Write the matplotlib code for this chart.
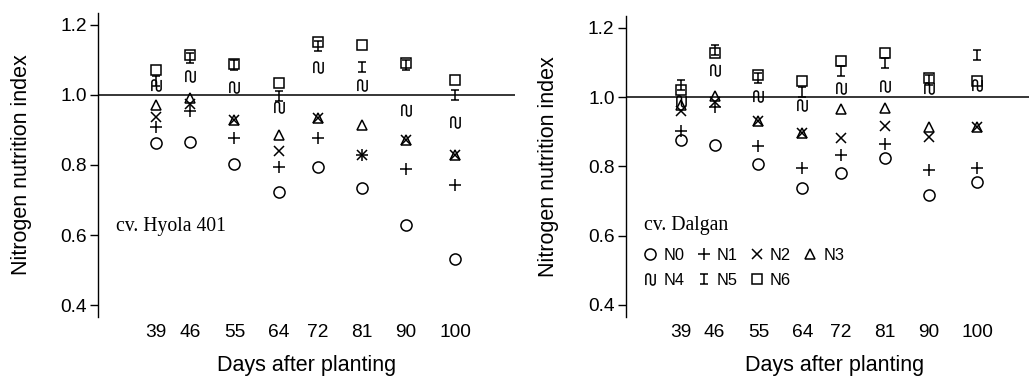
import numpy as np
import matplotlib
matplotlib.use("Agg")
import matplotlib.pyplot as plt
from matplotlib.path import Path
from matplotlib.lines import Line2D

days = [39, 46, 55, 64, 72, 81, 90, 100]
series_names = ["N0", "N1", "N2", "N3", "N4", "N5", "N6"]

hyola_N0 = [0.862, 0.866, 0.803, 0.724, 0.795, 0.733, 0.629, 0.533]
hyola_N1 = [0.908, 0.955, 0.876, 0.793, 0.876, 0.829, 0.790, 0.743]
hyola_N2 = [0.938, 0.975, 0.929, 0.840, 0.933, 0.829, 0.871, 0.829]
hyola_N3 = [0.971, 0.990, 0.929, 0.886, 0.935, 0.914, 0.871, 0.829]
hyola_N4 = [1.027, 1.055, 1.022, 0.965, 1.081, 1.029, 0.957, 0.924]
hyola_N5 = [1.040, 1.105, 1.086, 0.997, 1.140, 1.081, 1.085, 1.000]
hyola_N6 = [1.071, 1.113, 1.088, 1.035, 1.150, 1.143, 1.092, 1.043]

dalgan_N0 = [0.877, 0.862, 0.808, 0.738, 0.781, 0.824, 0.718, 0.755]
dalgan_N1 = [0.901, 0.970, 0.858, 0.795, 0.834, 0.865, 0.790, 0.795]
dalgan_N2 = [0.960, 0.987, 0.930, 0.896, 0.882, 0.917, 0.886, 0.915]
dalgan_N3 = [0.978, 1.002, 0.930, 0.896, 0.965, 0.968, 0.915, 0.915]
dalgan_N4 = [0.988, 1.079, 1.002, 0.978, 1.026, 1.031, 1.026, 1.035]
dalgan_N5 = [1.035, 1.135, 1.055, 1.016, 1.074, 1.098, 1.050, 1.122]
dalgan_N6 = [1.021, 1.127, 1.064, 1.045, 1.103, 1.127, 1.055, 1.045]

yticks = [0.4, 0.6, 0.8, 1.0, 1.2]

# custom markers
def wave_marker():
    r = 0.25
    pts = [(-0.5, -0.6), (-0.5, 0.35)]
    th = np.linspace(np.pi, 0, 20)
    pts += list(zip(-0.25 + r * np.cos(th), 0.35 + r * np.sin(th)))
    pts += [(0.0, -0.35)]
    th = np.linspace(np.pi, 2 * np.pi, 20)
    pts += list(zip(0.25 + r * np.cos(th), -0.35 + r * np.sin(th)))
    pts += [(0.5, 0.6)]
    return Path(pts)

def ibeam_marker():
    verts = [(-0.75, 1), (0.75, 1), (0, 1), (0, -1), (-0.75, -1), (0.75, -1)]
    codes = [Path.MOVETO, Path.LINETO, Path.MOVETO, Path.LINETO, Path.MOVETO, Path.LINETO]
    return Path(verts, codes)

marker_styles = {
    "N0": dict(marker="o", ms=8.0),
    "N1": dict(marker="+", ms=8.5),
    "N2": dict(marker="x", ms=7.0),
    "N3": dict(marker="^", ms=7.5),
    "N4": dict(marker=wave_marker(), ms=8.0),
    "N5": dict(marker=ibeam_marker(), ms=7.0),
    "N6": dict(marker="s", ms=7.2),
}

W, H = 1029, 376
fig = plt.figure(figsize=(W / 100, H / 100), dpi=100)

sans = "Liberation Sans"
serif = "Liberation Serif"

panels = [
    dict(rect=[98 / W, 1 - 317 / H, 417 / W, (317 - 13) / H], xlim=(27.2, 112.2),
         data=[hyola_N0, hyola_N1, hyola_N2, hyola_N3, hyola_N4, hyola_N5, hyola_N6],
         label="cv. Hyola 401", label_xy=(30.9, 0.623), ylab_x=-0.159, xlab_y=-0.125),
    dict(rect=[625.7 / W, 1 - 316.7 / H, 417 / W, (316.7 - 16) / H], xlim=(27.7, 27.7 + 417 / 4.862),
         data=[dalgan_N0, dalgan_N1, dalgan_N2, dalgan_N3, dalgan_N4, dalgan_N5, dalgan_N6],
         label="cv. Dalgan", label_xy=(31.5, 0.629), ylab_x=-0.16, xlab_y=-0.127),
]

axes = []
for p in panels:
    ax = fig.add_axes(p["rect"])
    ax.set_xlim(*p["xlim"])
    ax.set_ylim(0.366, 1.234)
    for s in ["top", "right", "bottom"]:
        ax.spines[s].set_visible(False)
    ax.spines["left"].set_linewidth(1.0)
    ax.axhline(1.0, color="black", lw=1.1, zorder=1)
    for name, vals in zip(series_names, p["data"]):
        st = marker_styles[name]
        ax.plot(days, vals, linestyle="none", marker=st["marker"], ms=st["ms"],
                mfc="none", mec="black", mew=1.1, color="black", zorder=3)
    ax.set_xticks(days)
    ax.set_xticklabels([str(d) for d in days], fontsize=13.8, family=sans)
    ax.tick_params(axis="x", length=0, pad=5)
    ax.set_yticks(yticks)
    ax.set_yticklabels(["%.1f" % v for v in yticks], fontsize=13.8, family=sans)
    ax.tick_params(axis="y", length=6, width=1.0, pad=2, direction="out")
    ax.set_ylabel("Nitrogen nutrition index", fontsize=15.5, family=sans)
    ax.yaxis.set_label_coords(p["ylab_x"], 0.5)
    ax.set_xlabel("Days after planting", fontsize=15.5, family=sans)
    ax.xaxis.set_label_coords(0.5, p["xlab_y"])
    ax.text(p["label_xy"][0], p["label_xy"][1], p["label"], fontsize=14.2,
            family=serif, ha="left", va="center")
    axes.append(ax)

# legend in right panel (row-major order)
handles = {}
for name in series_names:
    st = marker_styles[name]
    handles[name] = Line2D([], [], linestyle="none", marker=st["marker"], ms=st["ms"],
                           mfc="none", mec="black", mew=1.1)
order = ["N0", "N4", "N1", "N5", "N2", "N6", "N3"]
leg = axes[1].legend([handles[n] for n in order], order, ncol=4, frameon=False,
                     loc="upper left", bbox_to_anchor=(643 / W, 1 - 248 / H),
                     bbox_transform=fig.transFigure, borderpad=0, borderaxespad=0,
                     handlelength=0.9, handletextpad=0.35, columnspacing=0.72,
                     labelspacing=0.6, prop={"family": sans, "size": 11.8})

fig.savefig("out.png", dpi=100)
